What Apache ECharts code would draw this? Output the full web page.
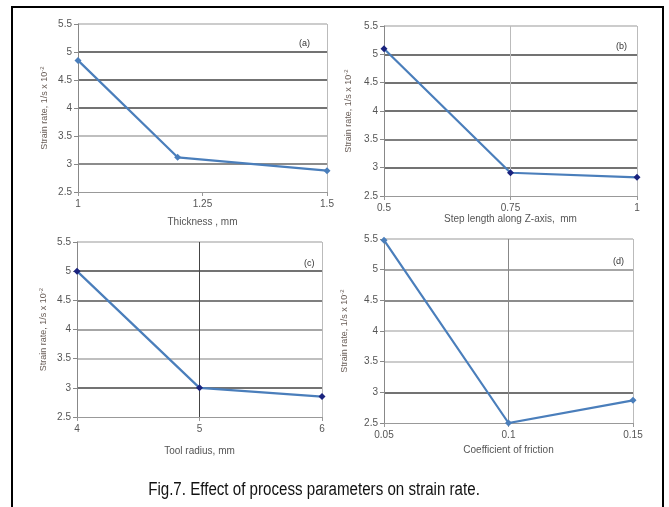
<!DOCTYPE html>
<html>
<head>
<meta charset="utf-8">
<title>Fig.7</title>
<script src="https://cdn.jsdelivr.net/npm/echarts@6/dist/echarts.min.js"></script>
<style>
  html, body { margin: 0; padding: 0; background: #fff; }
  #chart { width: 669px; height: 507px; }
</style>
</head>
<body>
<div id="chart"></div>
<script>
// values
const thickness = [1, 1.2, 1.5]
const rateThickness = [4.85, 3.12, 2.88]
const stepLength = [0.5, 0.75, 1]
const rateStep = [5.1, 2.91, 2.83]
const toolRadius = [4, 5, 6]
const rateRadius = [5.0, 3.0, 2.85]
const friction = [0.05, 0.1, 0.15]
const rateFriction = [5.48, 2.5, 2.87]

const panelTags = ['(a)', '(b)', '(c)', '(d)']
const xNames = ['Thickness , mm', 'Step length along Z-axis,  mm', 'Tool radius, mm', 'Coefficient of friction']
const yName = 'Strain rate, 1/s x 10{sup|-2}'
const caption = 'Fig.7. Effect of process parameters on strain rate.'

const font = 'Liberation Sans, Arial, sans-serif'
const lineColor = '#4a7ebb'

// one entry per panel: grid box, x range, line colours
const panels = [
  {
    x: thickness, y: rateThickness, grid: { left: 78, top: 24, width: 249, height: 168 },
    xMin: 1, xMax: 1.5, xStep: 0.25, marker: lineColor, tag: [294, 34], yGap: 28, xGap: 25,
    hLines: ['none', '#666', '#aaa', '#444', '#444', '#444', '#bbb'],
    vLines: ['none', 'rgba(0,0,0,0)', '#bbb']
  },
  {
    x: stepLength, y: rateStep, grid: { left: 384, top: 26, width: 253, height: 170 },
    xMin: 0.5, xMax: 1, xStep: 0.25, marker: '#1a237e', tag: [611, 37], yGap: 30, xGap: 16,
    hLines: ['none', '#444', '#555', '#444', '#444', '#444', '#bbb'],
    vLines: ['none', '#bbb', '#bbb']
  },
  {
    x: toolRadius, y: rateRadius, grid: { left: 77, top: 242, width: 245, height: 175 },
    xMin: 4, xMax: 6, xStep: 1, marker: '#1a237e', tag: [299, 254], yGap: 28, xGap: 29,
    hLines: ['none', '#444', '#aaa', '#888', '#555', '#444', '#bbb'],
    vLines: ['none', '#444', '#bbb']
  },
  {
    x: friction, y: rateFriction, grid: { left: 384, top: 239, width: 249, height: 184 },
    xMin: 0.05, xMax: 0.15, xStep: 0.05, marker: lineColor, tag: [608, 252], yGap: 34, xGap: 22,
    hLines: ['none', '#444', '#bbb', '#bbb', '#666', '#888', '#bbb'],
    vLines: ['none', '#888', '#bbb']
  }
]

const chart = echarts.init(document.getElementById('chart'))

const grids = []
const xAxes = []
const yAxes = []
const series = []
const titles = []

panels.forEach((p, i) => {
  grids.push(p.grid)
  xAxes.push({
    type: 'value',
    gridIndex: i,
    min: p.xMin,
    max: p.xMax,
    interval: p.xStep,
    name: xNames[i],
    nameLocation: 'middle',
    nameGap: p.xGap,
    nameTextStyle: { fontFamily: font, fontSize: 10, color: '#555' },
    axisLine: { show: true, lineStyle: { color: '#999', width: 1 } },
    axisTick: { show: true, length: 4, lineStyle: { color: '#999' } },
    axisLabel: {
      fontFamily: font, fontSize: 10, color: '#555', margin: 7,
      formatter: (v) => String(Math.round(v * 100) / 100)
    },
    splitLine: { show: true, lineStyle: { color: p.vLines, width: 1 } }
  })
  yAxes.push({
    type: 'value',
    gridIndex: i,
    min: 2.5,
    max: 5.5,
    interval: 0.5,
    name: yName,
    nameLocation: 'middle',
    nameGap: p.yGap,
    nameTextStyle: {
      fontFamily: font, fontSize: 9, color: '#6a5e58',
      rich: { sup: { fontFamily: font, fontSize: 6, color: '#6a5e58', verticalAlign: 'top', padding: [0, 0, 5, 0] } }
    },
    axisLine: { show: true, lineStyle: { color: '#888', width: 1 } },
    axisTick: { show: true, length: 4, lineStyle: { color: '#888' } },
    axisLabel: { fontFamily: font, fontSize: 10, color: '#555', margin: 6 },
    splitLine: { show: true, lineStyle: { color: p.hLines, width: 1.5 } }
  })
  series.push({
    type: 'line',
    xAxisIndex: i,
    yAxisIndex: i,
    data: p.x.map((v, k) => [v, p.y[k]]),
    symbol: 'diamond',
    symbolSize: 7,
    showAllSymbol: true,
    lineStyle: { color: lineColor, width: 2.2 },
    itemStyle: { color: p.marker },
    animation: false,
    silent: true
  })
  titles.push({
    text: panelTags[i],
    left: p.tag[0],
    top: p.tag[1],
    textStyle: { fontFamily: font, fontSize: 9, fontWeight: 'normal', color: '#333' }
  })
})

const option = {
  backgroundColor: '#fff',
  animation: false,
  title: titles,
  grid: grids,
  xAxis: xAxes,
  yAxis: yAxes,
  series: series,
  graphic: [
    {
      type: 'rect',
      shape: { x: 12, y: 7, width: 651, height: 530 },
      style: { fill: 'none', stroke: '#000', lineWidth: 2 },
      silent: true
    },
    {
      // caption in the reference is a condensed face, so squeeze it sideways
      type: 'text',
      x: 314,
      y: 490,
      scaleX: 0.84,
      style: {
        text: caption,
        fontFamily: font,
        fontSize: 18,
        fill: '#111',
        textAlign: 'center',
        textVerticalAlign: 'middle'
      },
      silent: true
    }
  ]
}

chart.setOption(option)
</script>
</body>
</html>
